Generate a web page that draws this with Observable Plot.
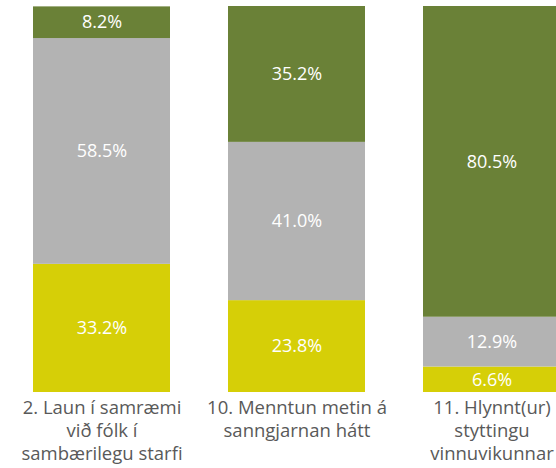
<!DOCTYPE html>
<html>
<head>
<meta charset="utf-8">
<script src="https://cdn.jsdelivr.net/npm/d3@7"></script>
<script src="https://cdn.jsdelivr.net/npm/@observablehq/plot@0.6"></script>
<style>
  html, body { margin: 0; padding: 0; background: #fff; overflow: hidden; }
  #chart svg { display: block; }
</style>
</head>
<body>
<div id="chart"></div>
<script>
const categories = [
  "2. Laun í samræmi\nvið fólk í\nsambærilegu starfi",
  "10. Menntun metin á\nsanngjarnan hátt",
  "11. Hlynnt(ur)\nstyttingu\nvinnuvikunnar"
];
const series = ["Ósammála", "Hlutlaus", "Sammála"];
const seriesColors = ["#d6cf07", "#b3b3b3", "#6a8137"];
const valuesOsammala = [33.2, 23.8, 6.6];
const valuesHlutlaus = [58.5, 41.0, 12.9];
const valuesSammala = [8.2, 35.2, 80.5];

const seriesValues = [valuesOsammala, valuesHlutlaus, valuesSammala];
const data = [];
series.forEach((s, si) => {
  categories.forEach((c, ci) => {
    data.push({category: c, series: s, value: seriesValues[si][ci]});
  });
});

const chart = Plot.plot({
  width: 556,
  height: 468,
  marginTop: 6,
  marginBottom: 76,
  marginLeft: 32,
  marginRight: 0,
  style: {fontFamily: "'Open Sans', sans-serif", background: "#fff"},
  x: {domain: categories, range: [32, 560], paddingInner: 0.3, paddingOuter: 0, label: null},
  y: {domain: [0, 100], axis: null},
  color: {domain: series, range: seriesColors},
  marks: [
    Plot.barY(data, Plot.stackY({x: "category", y: "value", fill: "series", order: series})),
    Plot.text(data, Plot.stackY({
      x: "category", y: "value", z: "series", order: series,
      text: d => d.value.toFixed(1) + "%",
      fill: "white", fontSize: 18
    })),
    Plot.axisX({tickSize: 0, tickPadding: 5, fontSize: 18.5, lineHeight: 1.25, fill: "#595959", label: null})
  ]
});
document.getElementById("chart").appendChild(chart);
</script>
</body>
</html>
